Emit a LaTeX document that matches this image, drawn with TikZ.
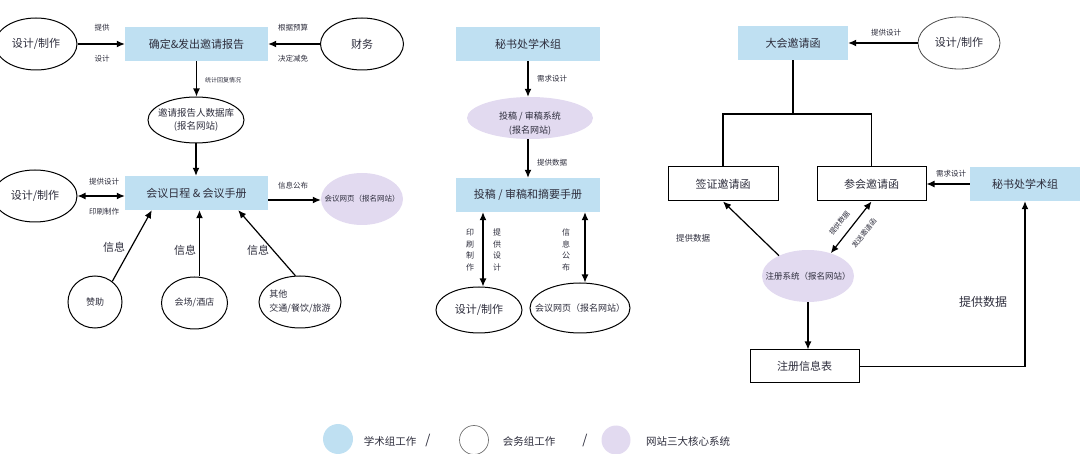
\documentclass[tikz,border=0pt]{standalone}
\usepackage{fontspec}
\setmainfont{Noto Sans CJK SC}
\usetikzlibrary{shapes.geometric,arrows.meta,calc}
\definecolor{acad}{RGB}{191,224,242}
\definecolor{webc}{RGB}{226,218,240}
\definecolor{txt}{RGB}{45,45,60}
\begin{document}
\begin{tikzpicture}[x=1pt,y=-1pt,
  every node/.style={text=txt, inner sep=0pt},
  fs/.style={font=\fontsize{#1}{#1}\selectfont},
  abox/.style={fill=acad, minimum width=#1, minimum height=34, font=\fontsize{11}{13}\selectfont},
  wbox/.style={draw, line width=1, fill=white, minimum width=#1, minimum height=34, font=\fontsize{11}{13}\selectfont},
  ell/.style 2 args={ellipse, draw, line width=1, minimum width=#1, minimum height=#2},
  pell/.style 2 args={ellipse, fill=webc, minimum width=#1, minimum height=#2},
  sm/.style={font=\fontsize{7.5}{9}\selectfont},
  rl/.style={font=\fontsize{7}{8}\selectfont},
  tiny/.style={font=\fontsize{6}{7}\selectfont},
  vl/.style={align=center, font=\fontsize{8}{11.5}\selectfont},
  arr/.style={-{Latex[length=8pt,width=7pt]}, line width=1.2},
  arrb/.style={{Latex[length=8pt,width=7pt]}-{Latex[length=8pt,width=7pt]}, line width=1.2},
  ln/.style={line width=1.2}
]
\useasboundingbox (0,0) rectangle (1080,454);

% ---------------- Panel 1 ----------------
\node[abox=143] (b1) at (196.5,44) {确定\&发出邀请报告};
\node[ell={82}{52}, label={[fs=11]center:设计/制作}] (d1) at (36,44) {};
\node[ell={83}{52}, label={[fs=11]center:财务}] (fin) at (362,44) {};
\draw[arr] (d1) -- (b1);
\draw[arr] (fin) -- (b1);
\node[sm] (l1) at (102,28) {提供};
\node[sm] (l2) at (102,59) {设计};
\node[sm] (l3) at (293,28) {根据预算};
\node[sm] (l4) at (293,59) {决定减免};

\node[ell={96}{46}, label={[align=center, font=\fontsize{9.5}{13}\selectfont]center:邀请报告人数据库\\(报名网站)}] (db) at (196,120) {};
\draw[arr] (b1.south) -- (b1.south |- db.north);
\node[tiny] (l5) at (223,80) {统计回复情况};

\node[abox=143] (b2) at (196.5,193) {会议日程 \& 会议手册};
\draw[arr] (db.south) -- (db.south |- b2.north);
\node[ell={84}{52}, label={[fs=11]center:设计/制作}] (d2) at (35,196) {};
\draw[arrb] (d2.east) -- (d2.east -| b2.west);
\node[sm] (l6) at (104,182) {提供设计};
\node[sm] (l7) at (104,212) {印刷制作};

\node[pell={82}{52}, label={[fs=7.5]center:会议网页（报名网站）}] (web1) at (362,199) {};
\coordinate (r1) at ([yshift=-7pt]b2.east);
\draw[arr] (r1) -- (r1 -| web1.west);
\node[sm] (l8) at (293,186) {信息公布};

\node[ell={54}{52}, label={[fs=9]center:赞助}] (sp) at (95,302) {};
\node[ell={66}{52}, label={[fs=9]center:会场/酒店}] (ven) at (194.5,303) {};
\node[ell={82}{52}, label={[align=left, font=\fontsize{9}{14}\selectfont]center:其他\\交通/餐饮/旅游}] (oth) at (300,302) {};
\draw[arr] (sp.50) -- ([xshift=27pt]b2.south west);
\coordinate (v1) at ([xshift=5pt]ven.north);
\draw[arr] (v1) -- (v1 |- b2.south);
\draw[arr] (oth.100) -- ([xshift=-30pt]b2.south east);
\node[fs=11] (i1) at (114,247) {信息};
\node[fs=11] (i2) at (185,250) {信息};
\node[fs=11] (i3) at (258,250) {信息};

% ---------------- Panel 2 ----------------
\node[abox=144] (b3) at (528,44) {秘书处学术组};
\node[pell={126}{42}] (sys) at (530,118) {};
\node[align=center, font=\fontsize{9}{14}\selectfont] (syst) at (530,124) {投稿 / 审稿系统\\(报名网站)};
\draw[arr] (b3.south) -- (b3.south |- sys.north);
\node[sm] (l9) at (552,79) {需求设计};
\node[abox=144] (b4) at (528,195) {投稿 / 审稿和摘要手册};
\draw[arr] (b3.south |- sys.south) -- (b4.north);
\node[sm] (l10) at (552,163) {提供数据};

\node[ell={86}{46}, label={[fs=11]center:设计/制作}] (d4) at (479,310) {};
\node[ell={100}{50}, label={[fs=9]center:会议网页（报名网站）}] (web2) at (580,308) {};
\coordinate (c1) at ([xshift=-45pt]b4.south);
\draw[arrb] (c1) -- (c1 |- d4.north);
\coordinate (c2) at ([xshift=57pt]b4.south);
\draw[arrb] (c2) -- (c2 |- web2.north);
\node[vl] (v2) at (470,250) {印\\刷\\制\\作};
\node[vl] (v3) at (497,250) {提\\供\\设\\计};
\node[vl] (v4) at (566,250) {信\\息\\公\\布};

% ---------------- Panel 3 ----------------
\node[abox=110] (b5) at (793,43) {大会邀请函};
\node[ellipse, draw=black!70, line width=0.8, minimum width=82, minimum height=52, label={[fs=11]center:设计/制作}] (d5) at (959,43) {};
\draw[arr] (d5) -- (b5);
\node[sm] (l11) at (886,33) {提供设计};

\node[wbox=110] (visa) at (723,184) {签证邀请函};
\node[wbox=109] (att) at (871.5,184) {参会邀请函};
\node[abox=110] (sec) at (1025,184) {秘书处学术组};
\coordinate (tj) at (793,114);
\draw[ln] (b5.south) -- (tj);
\draw[ln] (visa.north) |- (tj) -| (att.north);
\draw[arr] (sec.west) -- (att.east);
\node[sm] (l12) at (951,174) {需求设计};

\node[pell={92}{52}, label={[fs=8.5]center:注册系统（报名网站）}] (reg) at (808,276) {};
\draw[arr] (reg.145) -- (visa.south);
\node[font=\fontsize{8.5}{10}\selectfont] (l13) at (693,238) {提供数据};
\draw[arrb] (reg.45) -- node[pos=0.44, sloped, above=8pt, rl] (l14) {提供数据} node[pos=0.55, sloped, below=10pt, rl] (l15) {发送邀请函} (att.south);

\node[wbox=109, minimum height=33] (tbl) at (804.5,366.5) {注册信息表};
\draw[arr] (reg.south) -- (reg.south |- tbl.north);
\draw[arr] (tbl.east) -| (sec.south);
\node[fs=12] (l16) at (983,302) {提供数据};

% ---------------- Legend ----------------
\node[circle, fill=acad, minimum size=30] (g1) at (338,439) {};
\node[fs=10.5] (g1t) at (390,441) {学术组工作};
\node[fs=13] (s1) at (428,441) {/};
\node[circle, draw=black!55, line width=0.7, minimum size=29] (g2) at (474,440) {};
\node[fs=10.5] (g2t) at (529,441) {会务组工作};
\node[fs=13] (s2) at (585,441) {/};
\node[circle, fill=webc, minimum size=29] (g3) at (616,440) {};
\node[fs=10.5] (g3t) at (688,441) {网站三大核心系统};
\end{tikzpicture}
\end{document}
